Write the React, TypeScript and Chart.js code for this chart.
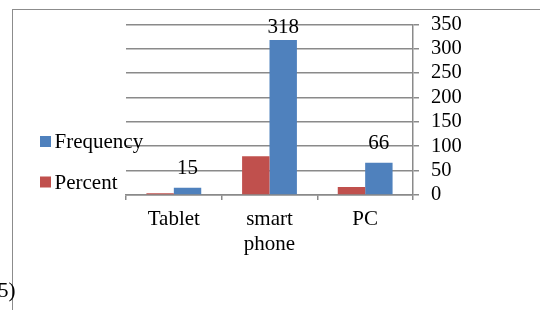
import React, { useEffect, useRef } from "react";
import { Chart, registerables } from "chart.js";

Chart.register(...registerables);

const categories: (string | string[])[] = ["Tablet", ["smart", "phone"], "PC"];
const seriesNames = ["Percent", "Frequency"];
const percentValues = [3.8, 79.7, 16.5];
const frequencyValues = [15, 318, 66];
const yMin = 0;
const yMax = 350;
const yStep = 50;

const FONT = "'Liberation Serif', 'Times New Roman', serif";
const RED = "#C0504D";
const BLUE = "#4F81BD";
const GRID = "#8a8a8a";

const labelPlugin = {
  id: "freqLabels",
  afterDatasetsDraw(chart: any) {
    const ctx = chart.ctx;
    const meta = chart.getDatasetMeta(1);
    ctx.save();
    ctx.font = `21px ${FONT}`;
    ctx.fillStyle = "#000";
    ctx.textAlign = "center";
    ctx.textBaseline = "alphabetic";
    meta.data.forEach((el: any, i: number) => {
      const y = Math.max(el.y - 14, chart.chartArea.top + 9);
      ctx.fillText(String(chart.data.datasets[1].data[i]), el.x, y);
    });
    ctx.restore();
  },
};

const legendPlugin = {
  id: "customLegend",
  afterDraw(chart: any) {
    const ctx = chart.ctx;
    const ds = chart.data.datasets.slice().reverse();
    ctx.save();
    ctx.font = `21px ${FONT}`;
    ctx.textBaseline = "middle";
    ctx.textAlign = "left";
    ds.forEach((d: any, i: number) => {
      const cy = 141.5 + i * 40.5;
      ctx.fillStyle = d.backgroundColor;
      ctx.fillRect(40, cy - 5.5, 11, 11);
      ctx.fillStyle = "#000";
      ctx.fillText(d.label, 54.5, cy + 1);
    });
    ctx.restore();
  },
};

export default function App() {
  const ref = useRef<HTMLCanvasElement>(null);
  useEffect(() => {
    if (!ref.current) return;
    const chart = new Chart(ref.current, {
      type: "bar",
      data: {
        labels: categories as any,
        datasets: [
          { label: seriesNames[0], data: percentValues, backgroundColor: RED },
          { label: seriesNames[1], data: frequencyValues, backgroundColor: BLUE },
        ],
      },
      options: {
        responsive: false,
        animation: false,
        devicePixelRatio: 1,
        layout: { padding: { left: 126, top: 24, right: 0, bottom: 0 } },
        datasets: { bar: { barPercentage: 1, categoryPercentage: 0.573 } },
        plugins: { legend: { display: false }, tooltip: { enabled: false } },
        scales: {
          x: {
            offset: true,
            grid: {
              display: true,
              offset: true,
              drawOnChartArea: false,
              drawTicks: true,
              tickLength: 5,
              color: GRID,
              lineWidth: 1.5,
            },
            border: { display: true, color: GRID, width: 1.5 },
            ticks: {
              color: "#000",
              font: { family: FONT, size: 21 },
              padding: 7,
              maxRotation: 0,
              autoSkip: false,
            },
            afterFit(scale: any) {
              scale.height = 115;
            },
          },
          y: {
            position: "right",
            min: yMin,
            max: yMax,
            grid: { color: GRID, lineWidth: 1.5, tickLength: 6 },
            border: { display: true, color: GRID, width: 1.5 },
            ticks: {
              stepSize: yStep,
              color: "#000",
              font: { family: FONT, size: 20.5 },
              padding: 12,
              autoSkip: false,
            },
            afterFit(scale: any) {
              scale.width = 127;
            },
          },
        },
      },
      plugins: [labelPlugin, legendPlugin],
    });
    return () => chart.destroy();
  }, []);

  return (
    <div
      style={{
        position: "fixed",
        left: 0,
        top: 0,
        width: 540,
        height: 310,
        overflow: "hidden",
        background: "#fff",
      }}
    >
      <div
        style={{
          position: "absolute",
          left: 12,
          top: 9,
          width: 600,
          height: 400,
          borderLeft: "1px solid #8c8c8c",
          borderTop: "1px solid #8c8c8c",
        }}
      />
      <canvas
        ref={ref}
        width={540}
        height={310}
        style={{ position: "absolute", left: 0, top: 0 }}
      />
      <span
        style={{
          position: "absolute",
          left: -9,
          top: 278,
          fontFamily: FONT,
          fontSize: 21,
          lineHeight: "24px",
          color: "#000",
        }}
      >
        (5)
      </span>
    </div>
  );
}
